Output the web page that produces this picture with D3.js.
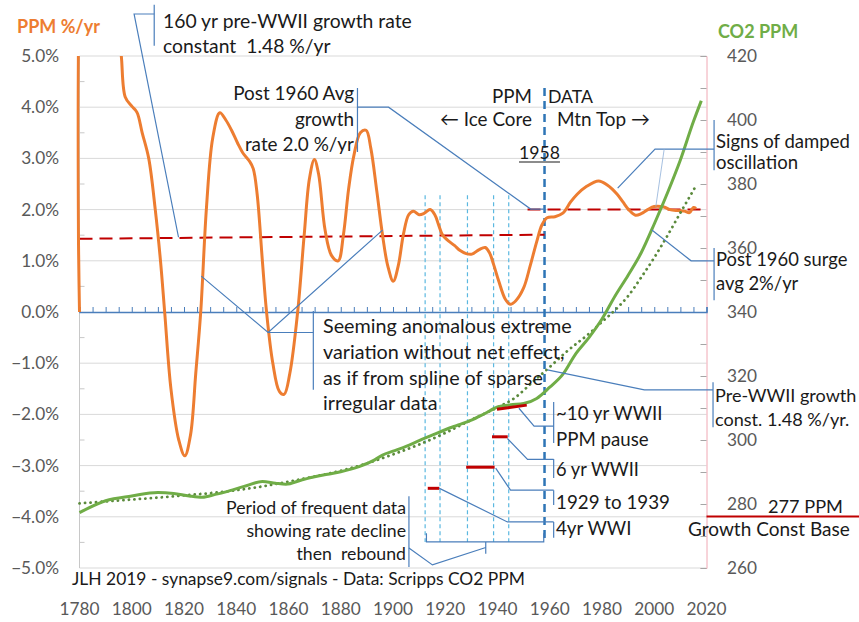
<!DOCTYPE html>
<html><head><meta charset="utf-8">
<script src="https://cdn.jsdelivr.net/npm/d3@7"></script>
<style>body{margin:0;background:#fff;} svg{display:block;}</style>
</head><body><svg id="c" width="859" height="622"></svg>
<script>
// ---------------- DATA ----------------
const rateYears = [1780,1781,1788,1795,1796,1797.5,1800,1802,1804,1806.5,1809,1811,1812.6,1815,1818,1820.3,1822.5,1824.5,1826.4,1828.6,1831,1833.7,1836,1838.2,1840.5,1842.6,1845,1846.5,1848,1850,1851.6,1854,1856.5,1858.3,1860.5,1863.5,1866,1868,1869.9,1871.5,1874,1876.5,1879,1881,1883,1885,1887.5,1889.7,1891.5,1893.8,1896,1898,1900.1,1902,1904,1906,1907.8,1910,1912,1914.2,1916,1917.4,1919,1921.2,1923.5,1925.7,1928,1930.2,1933,1935.3,1937,1938.5,1940.5,1943,1944.9,1947,1950,1952.5,1955.1,1957,1959,1962,1965,1968,1970.5,1974,1978.7,1982,1985.8,1988,1990.2,1992.8,1995,1997.5,2000,2003.7,2006,2009,2011.5,2013.5,2015,2016];
const rateValues = [0,7,9,5.4,5.0,4.2,4.02,3.9,3.5,3.0,2.0,1.0,0,-1.5,-2.5,-2.81,-2.4,-1.2,0,2.04,3.4,3.89,3.75,3.55,3.3,3.1,2.95,2.8,2.3,1.0,0,-1.0,-1.55,-1.61,-1.2,0,1.5,2.6,2.98,2.7,1.6,1.1,1.0,1.5,2.4,3.05,3.5,3.55,3.2,2.36,1.5,0.9,0.6,0.9,1.52,1.9,1.97,1.9,1.93,2.0,1.9,1.71,1.5,1.39,1.3,1.2,1.14,1.13,1.22,1.26,1.15,0.93,0.6,0.25,0.15,0.22,0.47,0.9,1.39,1.7,1.84,1.86,1.93,2.15,2.3,2.45,2.56,2.48,2.3,2.15,2.0,1.89,1.92,2.0,2.06,2.05,2.0,1.98,1.97,1.94,2.04,2.02];

const ppmYears = [1780,1790,1800,1810,1816,1822,1827,1832,1836,1843,1850,1855,1859,1865,1870,1875,1880,1887,1893,1896,1900,1905,1910,1915,1920,1925,1930,1935,1940,1945,1950,1955,1960,1965,1970,1975,1980,1985,1990,1995,2000,2005,2010,2015,2018];
const ppmValues = [277.3,281,282.5,283.6,283.3,282.5,282.1,283,283.8,285.5,287,286.5,286.2,287.5,288.5,289.3,290.1,291.7,293.8,295.3,296.5,298,299.8,301.5,303.2,304.7,306.2,308.2,310.3,311,311.4,313,316.5,320.5,327,332,337.8,345,351.5,358.5,367.5,377.1,387.5,399.5,406];

const fitYears = [1780,1790,1800,1810,1820,1830,1840,1850,1860,1870,1880,1890,1900,1910,1920,1930,1940,1946,1954,1960,1967,1975,1980,1985,1990,1995,2000,2005,2010,2016];
const fitValues = [280.2,280.8,281.4,282,282.7,283.4,284.3,285.5,287,288.6,290.4,292.7,295.5,298.6,302.2,306.3,310.2,312.8,318.5,322.8,328,333.2,336.9,340.6,345,350.8,357,363.8,371,379.5];

const leftTicks = [5,4,3,2,1,0,-1,-2,-3,-4,-5];
const rightTicks = [420,400,380,360,340,320,300,280,260];
const xTicks = [1780,1800,1820,1840,1860,1880,1900,1920,1940,1960,1980,2000,2020];

const preWWIIYears = [1780,1958];
const preWWIIRates = [1.43,1.51];
const post1960Years = [1951.5,2018.8];
const post1960Rates = [2.0,2.0];

const eventYears = [1912.3,1918,1928.5,1938.5,1944.3];
const dataSplitYear = 1958;
const baseCO2 = 277;

const barStart = [1939.8,1937.9,1928,1913.3];
const barEnd   = [1951.2,1943.9,1938.9,1917.7];
const barFrom  = [309.6,301,291.5,284.9];
const barTo    = [310.9,301,291.5,284.9];

// ---------------- SETUP ----------------
const svg = d3.select('#c');
const x = d3.scaleLinear().domain([1780,2020]).range([79.5,706.5]);
const yL = d3.scaleLinear().domain([-5,5]).range([568,56]);
const yR = d3.scaleLinear().domain([260,420]).range([568,56]);
const FONT = "Lato, 'Open Sans', 'DejaVu Sans', sans-serif";

function fit(str, target, weight){
  const t = svg.append('text').attr('font-size',100).attr('font-weight',weight||400)
    .style('font-family',FONT).attr('xml:space','preserve').style('white-space','pre').text(str);
  const w = t.node().getComputedTextLength(); t.remove();
  return 100*target/w;
}
const fsTick = fit('1780', 40);
const fsFoot = fit('JLH 2019 - synapse9.com/signals - Data: Scripps CO2 PPM', 453);
const fsTitle = fit('PPM %/yr', 83, 700);

const [x0,x1] = x.range();

// gridlines
svg.append('g').selectAll('line').data(leftTicks.filter(d=>d!==0)).join('line')
  .attr('x1',x0).attr('x2',x1).attr('y1',d=>yL(d)).attr('y2',d=>yL(d))
  .attr('stroke','#d9d9d9').attr('stroke-width',1);

// left axis line + minor ticks
svg.append('line').attr('x1',x0).attr('x2',x0).attr('y1',yL(5)).attr('y2',yL(-5)).attr('stroke','#c8c8c8');
svg.append('g').selectAll('line').data(d3.range(-4.5,5,1)).join('line')
  .attr('x1',x0).attr('x2',x0+5).attr('y1',d=>yL(d)).attr('y2',d=>yL(d)).attr('stroke','#c8c8c8');

// right axis
const gR = svg.append('g').attr('transform',`translate(${x1},0)`);
gR.call(d3.axisLeft(yR).tickValues(d3.range(260,421,10)).tickSize(6).tickFormat(''));
gR.select('.domain').attr('stroke','#f0a8b4');
gR.selectAll('.tick line').attr('stroke','#a6a6a6');

// right labels
svg.append('g').selectAll('text').data(rightTicks).join('text')
  .attr('x',727).attr('y',d=>yR(d)).attr('dy','0.35em')
  .attr('font-size',fsTick).style('font-family',FONT).attr('fill','#595959').text(d=>d);

// left labels
svg.append('g').selectAll('text').data(leftTicks).join('text')
  .attr('x',59).attr('y',d=>yL(d)).attr('dy','0.35em').attr('text-anchor','end')
  .attr('font-size',fsTick).style('font-family',FONT).attr('fill','#595959').text(d=>d3.format('.1f')(d)+'%');

// x labels
svg.append('g').selectAll('text').data(xTicks).join('text')
  .attr('x',d=>x(d)).attr('y',615).attr('text-anchor','middle')
  .attr('font-size',fsTick).style('font-family',FONT).attr('fill','#595959').text(d=>d);

// zero axis (blue) with 5-yr ticks upward
const gX = svg.append('g').attr('transform',`translate(0,${yL(0)})`);
gX.call(d3.axisTop(x).tickValues(d3.range(1780,2021,5)).tickSize(5).tickFormat(''));
gX.select('.domain').attr('stroke','#4a7ebb').attr('stroke-width',1.5);
gX.selectAll('.tick line').attr('stroke','#4a7ebb');

// event vertical dashed lines
svg.append('g').selectAll('line').data(eventYears).join('line')
  .attr('x1',d=>x(d)).attr('x2',d=>x(d)).attr('y1',yL(2.28)).attr('y2',yL(-4.49))
  .attr('stroke','#5bb8e0').attr('stroke-width',1.2).attr('stroke-dasharray','4,3');
// 1958 line
svg.append('line').attr('x1',x(dataSplitYear)).attr('x2',x(dataSplitYear))
  .attr('y1',yL(4.375)).attr('y2',yL(-4.49))
  .attr('stroke','#2e75b6').attr('stroke-width',2.5).attr('stroke-dasharray','8,5');

// clip
svg.append('clipPath').attr('id','plot').append('rect')
  .attr('x',x0-3).attr('y',yL(5)).attr('width',x1-x0+6).attr('height',yL(-5)-yL(5));

// red dashed trend lines
const lineL = d3.line().x(d=>x(d[0])).y(d=>yL(d[1]));
[[preWWIIYears,preWWIIRates],[post1960Years,post1960Rates]].forEach(([ys,vs])=>{
  svg.append('path').attr('d',lineL(ys.map((y,i)=>[y,vs[i]])))
    .attr('fill','none').attr('stroke','#c00000').attr('stroke-width',2).attr('stroke-dasharray','13,7');
});

// orange rate line
svg.append('path').attr('clip-path','url(#plot)')
  .attr('d',d3.line().curve(d3.curveCatmullRom.alpha(0.5)).x(d=>x(d[0])).y(d=>yL(d[1]))(rateYears.map((y,i)=>[y,rateValues[i]])))
  .attr('fill','none').attr('stroke','#ed7d31').attr('stroke-width',3).attr('stroke-linejoin','round');

// green dotted fit
const lineR = d3.line().curve(d3.curveMonotoneX).x(d=>x(d[0])).y(d=>yR(d[1]));
svg.append('path').attr('d',lineR(fitYears.map((y,i)=>[y,fitValues[i]])))
  .attr('fill','none').attr('stroke','#5b8a3c').attr('stroke-width',2.8)
  .attr('stroke-linecap','round').attr('stroke-dasharray','0.1,5.4');
// green solid ppm
svg.append('path').attr('d',lineR(ppmYears.map((y,i)=>[y,ppmValues[i]])))
  .attr('fill','none').attr('stroke','#70ad47').attr('stroke-width',3);

// red bars
svg.append('g').selectAll('line').data(barStart).join('line')
  .attr('x1',d=>x(d)).attr('x2',(d,i)=>x(barEnd[i]))
  .attr('y1',(d,i)=>yR(barFrom[i])).attr('y2',(d,i)=>yR(barTo[i]))
  .attr('stroke','#c00000').attr('stroke-width',3);

// base line 277
svg.append('line').attr('x1',x1).attr('x2',859).attr('y1',yR(baseCO2)+3).attr('y2',yR(baseCO2)+3)
  .attr('stroke','#c00000').attr('stroke-width',2);

// leader lines, in [year, %] coordinates
const leaders = [
  [[1808.6,6.0],[1808.6,5.2]],
  [[1808.6,5.82],[1800.9,5.82],[1817.9,1.46]],
  [[1886.4,4.375],[1886.4,3.125]],
  [[1886.4,4.0],[1898.3,4.0],[1952.7,2.01],[1958.1,2.01]],
  [[2022.9,3.75],[2022.9,2.77]],
  [[2022.9,3.18],[2000.3,3.18],[1986.0,2.42]],
  [[2022.9,1.25],[2022.9,0.23]],
  [[2022.9,1.0],[2014.1,1.0],[1999.1,1.6]],
  [[1869.5,0.02],[1869.5,-1.52]],
  [[1869.5,-0.4],[1852.2,-0.4]],
  [[1826.6,0.70],[1852.2,-0.4],[1896.0,1.60]],
  [[2022.5,-1.37],[2022.5,-2.25]],
  [[1959.1,-1.13],[1996.2,-1.52],[2022.5,-1.52]],
  [[1961.5,-1.76],[1961.5,-2.56]],
  [[1948.2,-1.88],[1954.0,-2.23],[1961.5,-2.23]],
  [[1961.5,-2.87],[1961.5,-3.24]],
  [[1943.8,-2.47],[1951.5,-2.88],[1961.5,-2.88]],
  [[1961.5,-3.48],[1961.5,-3.77]],
  [[1939.3,-3.05],[1945.0,-3.48],[1961.5,-3.48]],
  [[1961.5,-4.10],[1961.5,-4.41]],
  [[1917.6,-3.44],[1943.8,-4.10],[1961.5,-4.10]],
  [[1906.1,-3.6],[1906.1,-4.98]],
  [[1906.1,-4.61],[1915.1,-4.94],[1935.5,-4.6]],
  [[1912.8,-4.32],[1912.8,-4.49],[1957.7,-4.49],[1957.7,-4.32]],
  [[1935.5,-4.49],[1935.5,-4.72]]
];
svg.append('g').selectAll('path').data(leaders).join('path')
  .attr('d',d=>d3.line().x(p=>x(p[0])).y(p=>yL(p[1]))(d))
  .attr('fill','none').attr('stroke','#4a7ebb').attr('stroke-width',1.2);
svg.append('path').attr('d',d3.line().x(p=>x(p[0])).y(p=>yL(p[1]))([[2003.8,3.18],[2000.6,2.06]]))
  .attr('fill','none').attr('stroke','#8fb0d8').attr('stroke-width',0.8);

// notes (text): w = measured width of first line in the reference
const notes = [
  {x:163, y:28, dy:24.5, a:'start', w:249, t:['160 yr pre-WWII growth rate','constant  1.48 %/yr']},
  {x:354, y:100, dy:25.7, a:'end', w:121, t:['Post 1960 Avg','growth','rate 2.0 %/yr']},
  {x:532, y:103, dy:0, a:'end', w:40, t:['PPM']},
  {x:532, y:125.5, dy:0, a:'end', w:92, t:['\u2190 Ice Core']},
  {x:548, y:103, dy:0, a:'start', w:45, t:['DATA']},
  {x:557, y:125.5, dy:0, a:'start', w:93, t:['Mtn Top \u2192']},
  {x:519, y:159, dy:0, a:'start', w:41, t:['1958'], u:true},
  {x:716, y:148, dy:20.5, a:'start', w:134, t:['Signs of damped','oscillation']},
  {x:716, y:265.5, dy:24.5, a:'start', w:131.5, t:['Post 1960 surge','avg 2%/yr']},
  {x:323, y:333.3, dy:25.6, a:'start', w:249, t:['Seeming anomalous extreme','variation without net effect,','as if from spline of sparse','irregular data']},
  {x:715, y:401.5, dy:24.5, a:'start', w:141.5, t:['Pre-WWII growth','const. 1.48 %/yr.']},
  {x:556, y:420, dy:25.5, a:'start', w:106.5, t:['~10 yr WWII','PPM pause']},
  {x:556, y:475.5, dy:0, a:'start', w:83, t:['6 yr WWII']},
  {x:556, y:508.5, dy:0, a:'start', w:114, t:['1929 to 1939']},
  {x:556, y:535, dy:0, a:'start', w:75.5, t:['4yr WWI']},
  {x:406, y:513.5, dy:23, a:'end', w:180, t:['Period of frequent data','showing rate decline','then  rebound']},
  {x:768, y:513, dy:0, a:'start', w:75, t:['277 PPM']},
  {x:688, y:535.5, dy:0, a:'start', w:162, t:['Growth Const Base']}
];
notes.forEach(n=>{
  const fs = fit(n.t[0], n.w);
  n.t.forEach((s,i)=>{
    const t = svg.append('text').attr('x',n.x).attr('y',n.y+i*n.dy).attr('text-anchor',n.a)
      .attr('font-size',fs).style('font-family',FONT).attr('fill','#1a1a1a')
      .style('white-space','pre').attr('xml:space','preserve').text(s);
    if(n.u){
      const w = t.node().getComputedTextLength();
      svg.append('line').attr('x1',n.x).attr('x2',n.x+w).attr('y1',n.y+3).attr('y2',n.y+3)
        .attr('stroke','#1a1a1a').attr('stroke-width',1.2);
    }
  });
});

// titles & footer
svg.append('text').attr('x',17).attr('y',33).attr('font-size',fsTitle).attr('font-weight',700)
  .style('font-family',FONT).attr('fill','#ed7d31').text('PPM %/yr');
svg.append('text').attr('x',718).attr('y',38).attr('font-size',fsTitle).attr('font-weight',700)
  .style('font-family',FONT).attr('fill','#70ad47').text('CO2 PPM');
svg.append('text').attr('x',72).attr('y',585).attr('font-size',fsFoot)
  .style('font-family',FONT).attr('fill','#1a1a1a').text('JLH 2019 - synapse9.com/signals - Data: Scripps CO2 PPM');
</script>
</body></html>
